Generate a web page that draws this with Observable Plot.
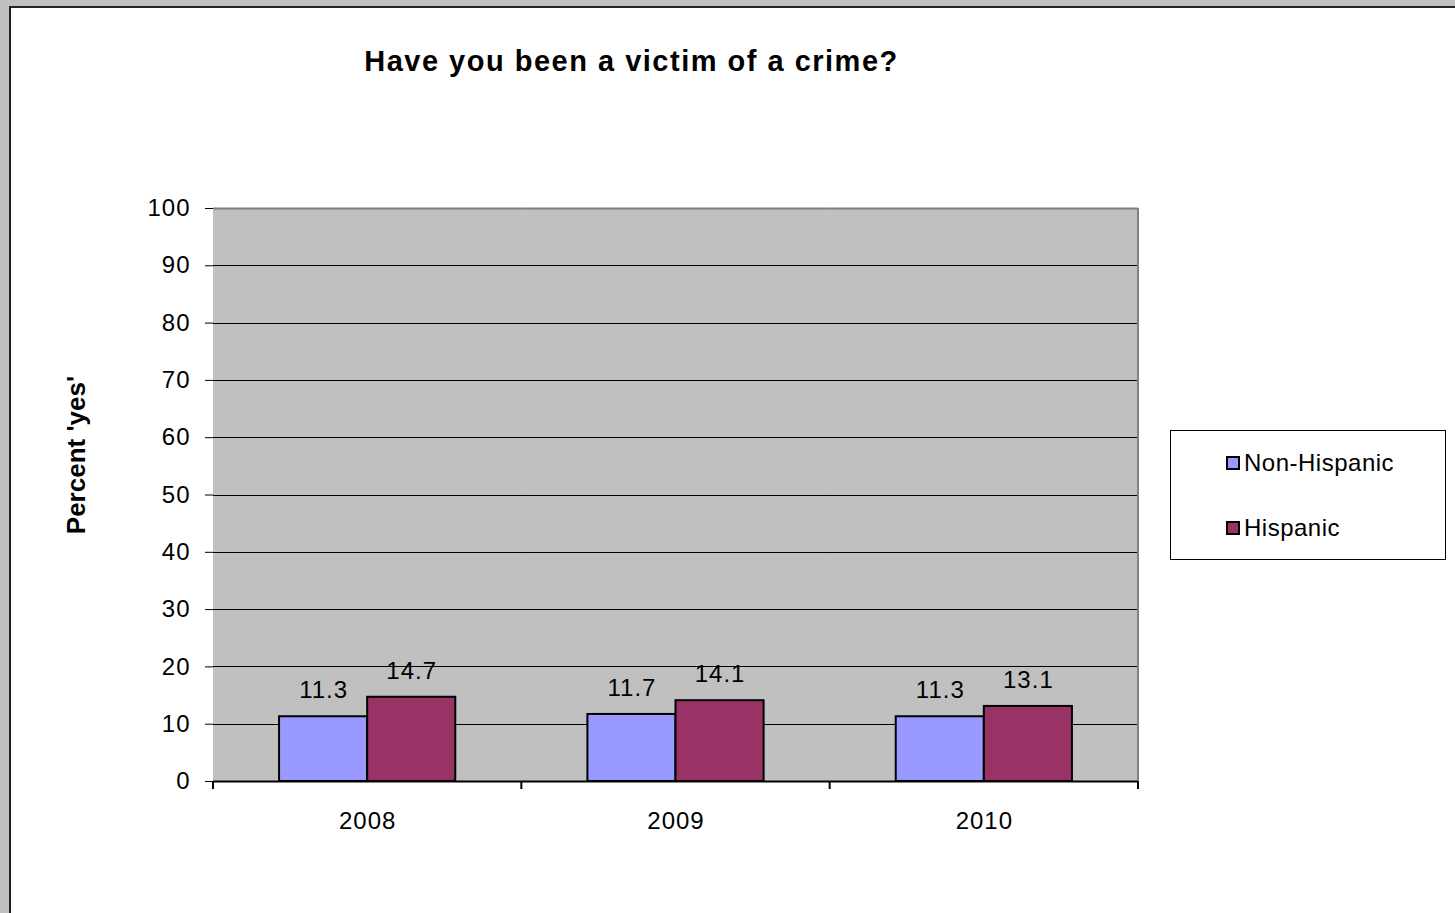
<!DOCTYPE html>
<html>
<head>
<meta charset="utf-8">
<script src="https://cdn.jsdelivr.net/npm/d3@7"></script>
<script src="https://cdn.jsdelivr.net/npm/@observablehq/plot@0.6"></script>
<style>
  html, body { margin: 0; padding: 0; width: 1455px; height: 913px; overflow: hidden; background: #c0c0c0; font-family: "Liberation Sans", Arial, sans-serif; color: #000; }
  #page { position: absolute; left: 9px; top: 6px; width: 1446px; height: 907px; background: #fff; border-left: 2px solid #222; border-top: 2px solid #222; box-sizing: border-box; }
  #chart { position: absolute; left: 0; top: 0; }
  #title { position: absolute; left: 0; width: 1263px; top: 44px; text-align: center; font-weight: bold; font-size: 29px; line-height: 34px; letter-spacing: 1.5px; white-space: nowrap; }
  #ylabel { position: absolute; left: 76px; top: 455px; transform: translate(-50%, -50%) rotate(-90deg); font-weight: bold; font-size: 26px; white-space: nowrap; line-height: 28px; }
  #legend { position: absolute; left: 1170px; top: 430px; width: 276px; height: 130px; border: 1px solid #000; box-sizing: border-box; background: #fff; }
  .item { position: absolute; left: 55px; height: 30px; display: flex; align-items: center; font-size: 24px; letter-spacing: 0.5px; white-space: nowrap; }
  .sw { width: 10px; height: 10px; border: 2px solid #000; margin-right: 4px; }
</style>
</head>
<body>
<div id="page"></div>
<div id="chart"></div>
<div id="title">Have you been a victim of a crime?</div>
<div id="ylabel">Percent 'yes'</div>
<div id="legend"></div>
<script>
// ---- data ----
const years = ["2008", "2009", "2010"];
const seriesNames = ["Non-Hispanic", "Hispanic"];
const nonHispanic = [11.3, 11.7, 11.3];
const hispanic = [14.7, 14.1, 13.1];
const seriesColors = ["#9999ff", "#993366"];
const yTicks = [0, 10, 20, 30, 40, 50, 60, 70, 80, 90, 100];

const rows = [];
years.forEach((yr, i) => {
  rows.push({year: yr, series: seriesNames[0], value: nonHispanic[i]});
  rows.push({year: yr, series: seriesNames[1], value: hispanic[i]});
});

const W = 1455, H = 913;
const chart = Plot.plot({
  width: W,
  height: H,
  marginLeft: 213,
  marginRight: 317,
  marginTop: 208,
  marginBottom: 132,
  style: {background: "transparent", color: "#000", fontFamily: "'Liberation Sans', Arial, sans-serif", fontSize: "24px", letterSpacing: "1px", overflow: "visible"},
  fx: {domain: years, padding: 0, round: false, label: null, tickSize: 0, tickPadding: 30, axis: "bottom"},
  x: {domain: seriesNames, paddingInner: 0, paddingOuter: 0.75, round: false, axis: null},
  y: {domain: [0, 100], ticks: yTicks, tickSize: 8, tickPadding: 15, label: null, line: true},
  color: {domain: seriesNames, range: seriesColors},
  marks: [
    Plot.frame({fill: "#c0c0c0", stroke: "#c0c0c0"}),
    Plot.ruleY(yTicks.filter(t => t > 0 && t < 100), {stroke: "#000", strokeWidth: 1, shapeRendering: "crispEdges"}),
    Plot.ruleY([100], {stroke: "#808080", strokeWidth: 2}),
    Plot.ruleY([0], {stroke: "#000", strokeWidth: 2}),
    Plot.barY(rows, {fx: "year", x: "series", y: "value", fill: "series", stroke: "#000", strokeWidth: 2}),
    Plot.text(rows, {fx: "year", x: "series", y: "value", text: d => d.value.toFixed(1), dy: -26, fill: "#000", fontSize: 24})
  ]
});
document.getElementById("chart").appendChild(chart);

// x axis boundary ticks and right plot-area border from the fx scale
const fx = chart.scale("fx");
const yS = chart.scale("y");
const bounds = years.map(y => fx.apply(y)).concat([fx.apply(years[years.length - 1]) + fx.bandwidth]);
const svg = d3.select(chart);
const g = svg.append("g").attr("stroke", "#000").attr("stroke-width", 2);
const y0 = yS.apply(0), y100 = yS.apply(100);
bounds.forEach(b => {
  g.append("line").attr("x1", b).attr("x2", b).attr("y1", y0).attr("y2", y0 + 8);
});
const last = bounds[bounds.length - 1];
svg.append("line").attr("x1", last).attr("x2", last).attr("y1", y100).attr("y2", y0)
  .attr("stroke", "#808080").attr("stroke-width", 2);

// legend
const legend = document.getElementById("legend");
const legendTops = [17, 82];
seriesNames.forEach((s, i) => {
  const it = document.createElement("div");
  it.className = "item";
  it.style.top = legendTops[i] + "px";
  const sw = document.createElement("div");
  sw.className = "sw";
  sw.style.background = seriesColors[i];
  it.appendChild(sw);
  it.appendChild(document.createTextNode(s));
  legend.appendChild(it);
});
</script>
</body>
</html>
